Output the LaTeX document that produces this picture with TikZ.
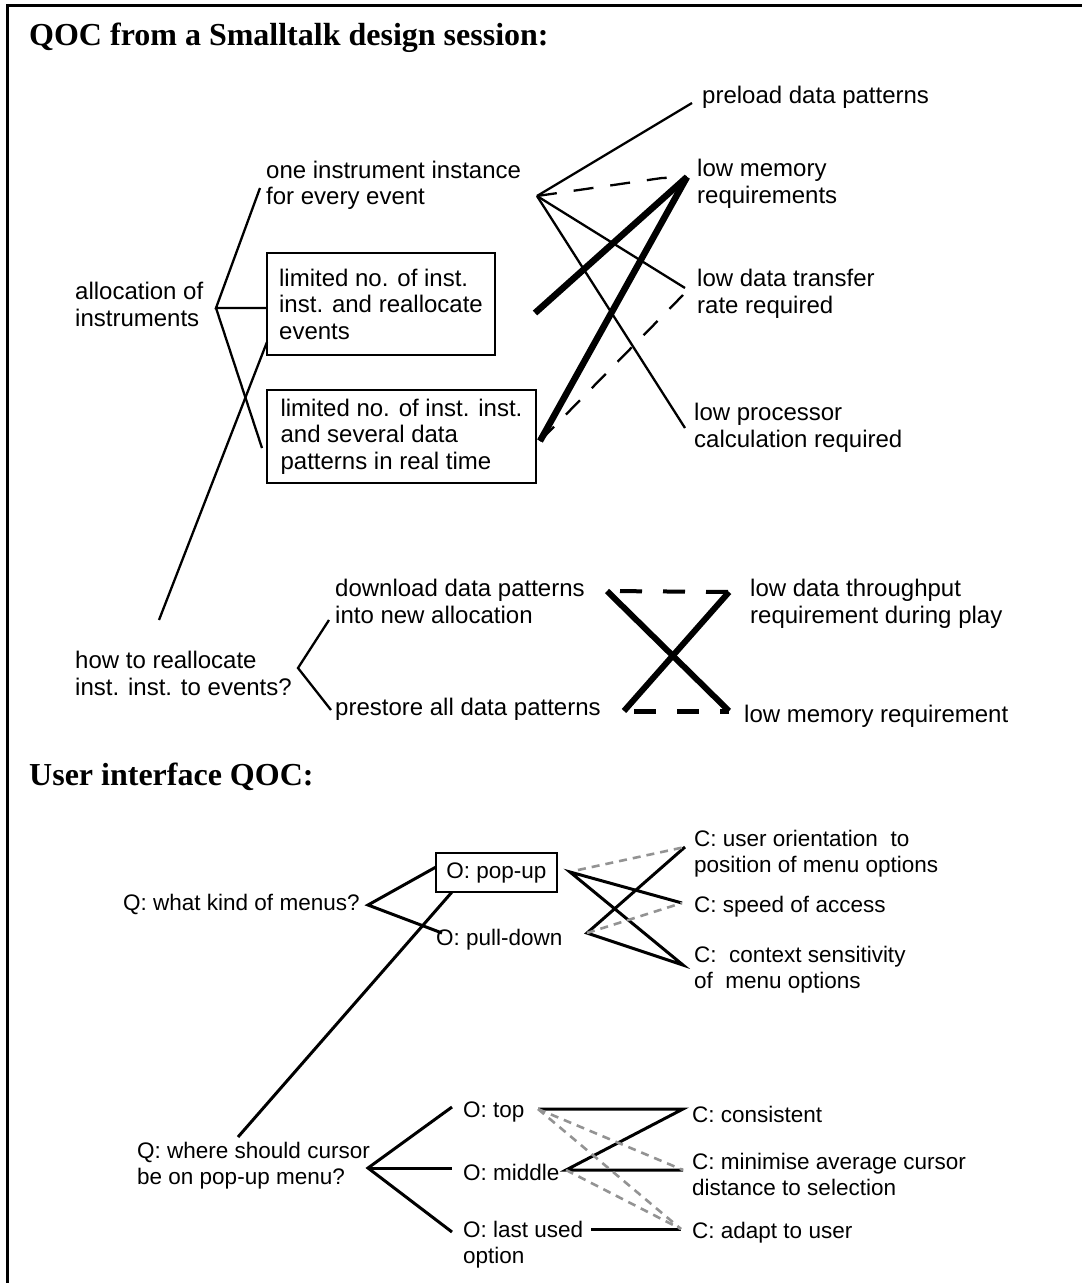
\documentclass[tikz,border=0pt]{standalone}
\usepackage{fontspec}
\setmainfont{Liberation Sans}
\newfontfamily\headfont{Liberation Serif}
\usetikzlibrary{calc}

\begin{document}
\begin{tikzpicture}[x=1pt,y=-1pt,
    txt/.style={inner sep=0pt,anchor=base west,align=left,font=\fontsize{24}{26.5}\selectfont},
    sml/.style={inner sep=0pt,anchor=base west,align=left,font=\fontsize{22.5}{26}\selectfont},
    head/.style={inner sep=0pt,anchor=base west,font=\headfont\bfseries\fontsize{32}{36}\selectfont},
    optbox/.style={draw,line width=2.3pt,inner sep=0pt,align=left,font=\fontsize{24}{26.5}\selectfont},
    link/.style={line width=2.3pt},
    strong/.style={line width=6.5pt},
    weak/.style={line width=2.3pt,dash pattern=on 20pt off 17pt},
    uilink/.style={line width=3pt},
    grey/.style={line width=2.6pt,gray!85,dash pattern=on 8pt off 6pt}]

    \useasboundingbox (0,0) rectangle (1082,1283);

    % Frame
    \draw[line width=3pt] (7,1283) -- (7,5) -- (1082,5);

    % --- Smalltalk session ---
    \node[head] (title1) at (29,45) {QOC from a Smalltalk design session:};

    % Options (multi-line nodes sit on their last line)
    \node[txt] (alloc) at (75,326) {allocation of\\instruments};
    \node[txt] (one) at (266,204.5) {one instrument instance\\for every event};
    \node[optbox,minimum width=228pt,minimum height=102pt] (lim1) at (381,304)
      {limited no. of inst.\\inst. and reallocate\\events};
    \node[optbox,minimum width=269pt,minimum height=93pt] (lim2) at (401.5,436.5)
      {limited no. of inst. inst.\\and several data\\patterns in real time};

    % Criteria
    \node[txt] (preload) at (702,103) {preload data patterns};
    \node[txt] (lowmem) at (697,203) {low memory\\requirements};
    \node[txt] (lowxfer) at (697,313) {low data transfer\\rate required};
    \node[txt] (lowproc) at (694,447) {low processor\\calculation required};

    % Second question
    \node[txt] (realloc) at (75,695) {how to reallocate\\inst. inst. to events?};
    \node[txt] (download) at (335,623) {download data patterns\\into new allocation};
    \node[txt] (prestore) at (335,715) {prestore all data patterns};
    \node[txt] (lowtp) at (750,623) {low data throughput\\requirement during play};
    \node[txt] (lowmemreq) at (744,722) {low memory requirement};

    % Ends
    \coordinate (aJ) at (216,308);
    \coordinate (oneL) at (260,188);
    \coordinate (lim1L) at (267,308);
    \coordinate (lim2L) at (262,448);
    \coordinate (lim1B) at (267,342);
    \coordinate (reT) at (159,620);
    \coordinate (oneR) at (537,196);
    \coordinate (preL) at (692,103);
    \coordinate (memK) at (662,178);
    \coordinate (memL) at (687,177);
    \coordinate (xferL) at (685,288);
    \coordinate (xferD) at (683,295);
    \coordinate (procL) at (685,428);
    \coordinate (lim1R) at (535,313);
    \coordinate (lim2R) at (540,441);
    \coordinate (reJ) at (298,668);
    \coordinate (dlL) at (329,620);
    \coordinate (psL) at (331,710);
    \coordinate (dlR) at (607,591);
    \coordinate (psR) at (624,711);
    \coordinate (tpL) at (729,592);
    \coordinate (mrL) at (729,711);

    % Question to options
    \draw[link] (oneL) -- (aJ) -- (lim1L);
    \draw[link] (aJ) -- (lim2L);
    \draw[link] (lim1B) -- (reT);
    \draw[link] (dlL) -- (reJ) -- (psL);

    % Options to criteria
    \draw[link] (oneR) -- (preL);
    \draw[weak] (oneR) -- (memK) -- (memL);
    \draw[link] (oneR) -- (xferL);
    \draw[link] (oneR) -- (procL);
    \draw[strong] (lim1R) -- (memL);
    \draw[strong] (lim2R) -- (memL);
    \draw[weak] (lim2R) -- (xferD);

    % Cross
    \draw[line width=6pt] (dlR) -- (mrL);
    \draw[line width=6pt] (psR) -- (tpL);
    \draw[line width=4pt,dash pattern=on 22pt off 21pt,dash phase=-13pt] (dlR) -- (tpL);
    \draw[line width=5pt,dash pattern=on 22pt off 21pt,dash phase=-10pt] (psR) -- (mrL);

    % --- User interface ---
    \node[head] (title2) at (29,785) {User interface QOC:};

    \node[sml] (menus) at (123,910) {Q: what kind of menus?};
    \node[optbox,line width=2.5pt,font=\fontsize{22.5}{26}\selectfont,
      minimum width=121pt,minimum height=39pt] (popup) at (496.5,872.5) {O: pop-up};
    \node[sml] (pulldown) at (436,945) {O: pull-down};
    \node[sml] (orient) at (694,872) {C: user orientation\ \ to\\position of menu options};
    \node[sml] (speed) at (694,912) {C: speed of access};
    \node[sml] (context) at (694,988) {C:\ \ context sensitivity\\of\ \ menu options};

    \node[sml] (cursor) at (137,1184) {Q: where should cursor\\be on pop-up menu?};
    \node[sml] (otop) at (463,1117) {O: top};
    \node[sml] (omid) at (463,1180) {O: middle};
    \node[sml] (olast) at (463,1263) {O: last used\\option};
    \node[sml] (consist) at (692,1122) {C: consistent};
    \node[sml] (minim) at (692,1195) {C: minimise average cursor\\distance to selection};
    \node[sml] (adapt) at (692,1238) {C: adapt to user};

    % Ends
    \coordinate (mJ) at (368,905);
    \coordinate (puL) at (436,867);
    \coordinate (pdL) at (442,933);
    \coordinate (puB) at (452,892);
    \coordinate (cT) at (238,1137);
    \coordinate (puR) at (570,872);
    \coordinate (puD) at (578,870);
    \coordinate (pdR) at (587,933);
    \coordinate (uoL) at (685,847);
    \coordinate (spL) at (682,903);
    \coordinate (csL) at (683,965);
    \coordinate (cJ) at (368,1168);
    \coordinate (topL) at (452,1107);
    \coordinate (midL) at (452,1168);
    \coordinate (lastL) at (452,1232);
    \coordinate (topR) at (538,1109);
    \coordinate (conL) at (683,1109);
    \coordinate (midR) at (566,1170);
    \coordinate (minL) at (683,1170);
    \coordinate (lastR) at (591,1229);
    \coordinate (adL) at (681,1229);

    % Menus
    \draw[uilink] (puL) -- (mJ) -- (pdL);
    \draw[uilink] (puB) -- (cT);
    \draw[uilink] (spL) -- (puR) -- (csL) -- (pdR) -- (uoL);
    \draw[grey] (puD) -- (uoL);
    \draw[grey] (pdR) -- (spL);

    % Cursor
    \draw[uilink] (topL) -- (cJ) -- (lastL);
    \draw[uilink] (cJ) -- (midL);
    \draw[uilink] (topR) -- (conL) -- (midR) -- (minL);
    \draw[uilink] (lastR) -- (adL);
    \draw[grey] (topR) -- (minL);
    \draw[grey] (topR) -- (adL);
    \draw[grey] (midR) -- (adL);
\end{tikzpicture}
\end{document}
